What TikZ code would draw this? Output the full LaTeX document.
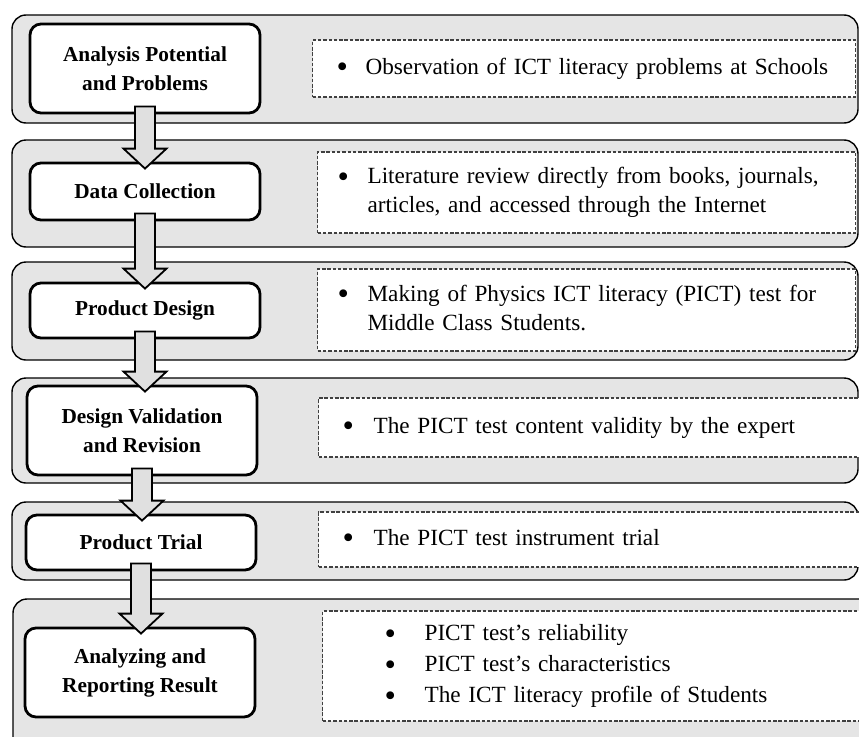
\documentclass[tikz,border=0pt]{standalone}
\usepackage{fontspec}
\setmainfont{Liberation Serif}
\usetikzlibrary{calc}

\definecolor{bandgray}{gray}{0.9}
\definecolor{arrowgray}{gray}{0.88}
\definecolor{dashgray}{gray}{0.25}

\newcommand{\notebullet}{\smash{\raisebox{-0.14em}{\scalebox{1.4}{\textbullet}}}}
\newcommand{\flowarrow}[2]{%
	\draw[blockarrow] let \p1=(#1.south), \p2=(#2.north) in
	(\x1-10pt,\y1+8pt) -- (\x1+10pt,\y1+8pt) -- (\x1+10pt,\y2+13pt) -- (\x1+21.5pt,\y2+13pt)
	-- (\x1,\y2-7pt) -- (\x1-21.5pt,\y2+13pt) -- (\x1-10pt,\y2+13pt) -- cycle;}

\begin{document}
\begin{tikzpicture}[x=1pt,y=-1pt,
	band/.style={draw=black,line width=1.4pt,fill=bandgray,rounded corners=14pt},
	stepbox/.style={draw=black,line width=2.8pt,fill=white,rounded corners=11pt,inner sep=0pt,minimum width=230pt,align=center,font=\bfseries\fontsize{21.3}{29}\selectfont},
	notebox/.style={draw=dashgray,dash pattern=on 3.5pt off 1.8pt,line width=1.2pt,fill=white,anchor=west,inner ysep=0pt,align=left,font=\fontsize{23.2}{29}\selectfont},
	blockarrow/.style={draw=black,line width=1.8pt,fill=arrowgray,line join=miter}]
	
	\useasboundingbox (0,0) rectangle (859,736);
	
	\filldraw[band] (12,15) rectangle (858,123);
	\filldraw[band] (12,140) rectangle (858,247);
	\filldraw[band] (12,262) rectangle (858,360);
	\filldraw[band] (12,378) rectangle (858,483);
	\filldraw[band] (12,502) rectangle (858,580);
	\filldraw[band] (13,599) rectangle (880,760);
	
	\node[stepbox,minimum height=89pt] (analysis) at (145,68.5) {Analysis Potential\\and Problems};
	\node[stepbox,minimum height=57pt] (collection) at (145,191.5) {Data Collection};
	\node[stepbox,minimum height=55pt] (design) at (145,310.5) {Product Design};
	\node[stepbox,minimum height=89pt] (validation) at (142,430.5) {Design Validation\\and Revision};
	\node[stepbox,minimum height=55pt] (trial) at (141,542.5) {Product Trial};
	\node[stepbox,minimum height=89pt] (result) at (140,672.5) {Analyzing and\\Reporting Result};
	
	\node[notebox,minimum height=57pt,inner xsep=24pt,text width=495pt] (obsnote) at (312,68.5)
	{\begin{tabular}{@{}p{29pt}@{}l@{}}\notebullet & Observation of ICT literacy problems at Schools\end{tabular}};
	\node[notebox,minimum height=81pt,inner xsep=20pt,text width=498pt] (litnote) at (317,192.5)
	{\begin{tabular}{@{}p{30pt}@{}l@{}}\notebullet & Literature review directly from books, journals,\\ & articles, and accessed through the Internet\end{tabular}};
	\node[notebox,minimum height=82pt,inner xsep=20pt,text width=498pt] (testnote) at (317,310)
	{\begin{tabular}{@{}p{30pt}@{}l@{}}\notebullet & Making of Physics ICT literacy (PICT) test for\\ & Middle Class Students.\end{tabular}};
	\node[notebox,minimum height=59pt,inner xsep=24pt,text width=534pt] (validnote) at (318,427.5)
	{\begin{tabular}{@{}p{31pt}@{}l@{}}\notebullet & The PICT test content validity by the expert\end{tabular}};
	\node[notebox,minimum height=55pt,inner xsep=24pt,text width=534pt] (trialnote) at (318,539.5)
	{\begin{tabular}{@{}p{31pt}@{}l@{}}\notebullet & The PICT test instrument trial\end{tabular}};
	\node[notebox,minimum height=110pt,inner xsep=62pt,text width=454pt] (resultnote) at (322,666)
	{\begin{tabular}{@{}p{40pt}@{}l@{}}\notebullet & PICT test's reliability\\[2pt] \notebullet & PICT test's characteristics\\[2pt] \notebullet & The ICT literacy profile of Students\end{tabular}};
	
	\foreach \a/\b in {analysis/collection,collection/design,design/validation,validation/trial,trial/result}
	{
		\flowarrow{\a}{\b}
	}
	\end{tikzpicture}
\end{document}
